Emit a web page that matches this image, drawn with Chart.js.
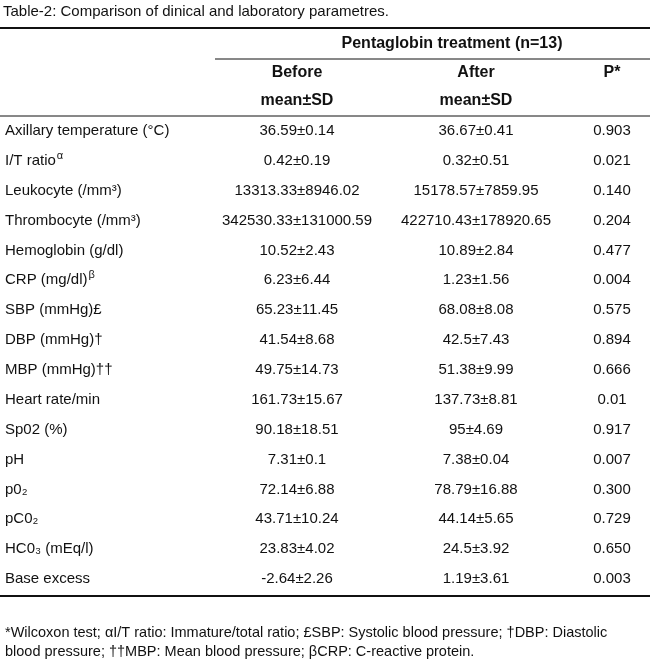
<!DOCTYPE html>
<html>
<head>
<meta charset="utf-8">
<script src="https://cdn.jsdelivr.net/npm/chart.js@4"></script>
<style>
  body { margin: 0; background: #fff; }
  canvas { display: block; }
</style>
</head>
<body>
<canvas id="tbl" width="650" height="661"></canvas>
<script>
// Table data
const rowLabels = [
    'Axillary temperature (°C)', 'I/T ratio', 'Leukocyte (/mm³)', 'Thrombocyte (/mm³)',
    'Hemoglobin (g/dl)', 'CRP (mg/dl)', 'SBP (mmHg)£', 'DBP (mmHg)†', 'MBP (mmHg)††',
    'Heart rate/min', 'Sp02 (%)', 'pH', 'p0₂', 'pC0₂', 'HC0₃ (mEq/l)', 'Base excess'
];
const labelSup = ['', 'α', '', '', '', 'β', '', '', '', '', '', '', '', '', '', ''];
const beforeVals = [
    '36.59±0.14', '0.42±0.19', '13313.33±8946.02', '342530.33±131000.59', '10.52±2.43',
    '6.23±6.44', '65.23±11.45', '41.54±8.68', '49.75±14.73', '161.73±15.67', '90.18±18.51',
    '7.31±0.1', '72.14±6.88', '43.71±10.24', '23.83±4.02', '-2.64±2.26'
];
const afterVals = [
    '36.67±0.41', '0.32±0.51', '15178.57±7859.95', '422710.43±178920.65', '10.89±2.84',
    '1.23±1.56', '68.08±8.08', '42.5±7.43', '51.38±9.99', '137.73±8.81', '95±4.69',
    '7.38±0.04', '78.79±16.88', '44.14±5.65', '24.5±3.92', '1.19±3.61'
];
const pVals = [
    '0.903', '0.021', '0.140', '0.204', '0.477', '0.004', '0.575', '0.894', '0.666',
    '0.01', '0.917', '0.007', '0.300', '0.729', '0.650', '0.003'
];
const titleText = 'Table-2: Comparison of dinical and laboratory parametres.';
const groupHeader = 'Pentaglobin treatment (n=13)';
const colHeaders = [['Before', 'mean±SD'], ['After', 'mean±SD'], ['P*', '']];
const footLines = [
    '*Wilcoxon test; αI/T ratio: Immature/total ratio; £SBP: Systolic blood pressure; †DBP: Diastolic',
    'blood pressure; ††MBP: Mean blood pressure; βCRP: C-reactive protein.'
];

const FONT = '"Liberation Sans Narrow", "Arial Narrow", sans-serif';
const COL_X = [297, 476, 612];

const tablePlugin = {
    id: 'tablePlugin',
    afterDraw(chart) {
        const ctx = chart.ctx;
        const x = chart.scales.x;
        const y = chart.scales.y;
        ctx.save();
        ctx.fillStyle = '#111';
        ctx.strokeStyle = '#111';
        ctx.textBaseline = 'middle';

        // title
        ctx.font = '15px ' + FONT;
        ctx.textAlign = 'left';
        ctx.fillText(titleText, x.getPixelForValue(3), 12);

        // rules
        const hline = (y0, x0, x1, w) => {
            ctx.lineWidth = w;
            ctx.beginPath();
            ctx.moveTo(x.getPixelForValue(x0), y0);
            ctx.lineTo(x.getPixelForValue(x1), y0);
            ctx.stroke();
        };
        hline(28, 0, 650, 2);
        hline(59, 215, 650, 1);
        hline(116, 0, 650, 1);
        hline(596, 0, 650, 2);

        // headers
        ctx.font = 'bold 16px ' + FONT;
        ctx.textAlign = 'center';
        ctx.fillText(groupHeader, x.getPixelForValue(452), 44);
        colHeaders.forEach((h, i) => {
            ctx.fillText(h[0], x.getPixelForValue(COL_X[i]), 73);
            if (h[1]) ctx.fillText(h[1], x.getPixelForValue(COL_X[i]), 101);
        });

        // rows
        rowLabels.forEach((lab, i) => {
            const py = y.getPixelForValue(i);
            ctx.font = '15px ' + FONT;
            ctx.textAlign = 'left';
            const lx = x.getPixelForValue(5);
            ctx.fillText(lab, lx, py);
            if (labelSup[i]) {
                const w = ctx.measureText(lab).width;
                ctx.font = '11px ' + FONT;
                ctx.fillText(labelSup[i], lx + w + 1, py - 5);
                ctx.font = '15px ' + FONT;
            }
            ctx.textAlign = 'center';
            ctx.fillText(beforeVals[i], x.getPixelForValue(COL_X[0]), py);
            ctx.fillText(afterVals[i], x.getPixelForValue(COL_X[1]), py);
            ctx.fillText(pVals[i], x.getPixelForValue(COL_X[2]), py);
        });

        // footnote
        ctx.font = '14.5px ' + FONT;
        ctx.textAlign = 'left';
        footLines.forEach((t, i) => ctx.fillText(t, x.getPixelForValue(5), 633 + i * 19));
        ctx.restore();
    }
};

new Chart(document.getElementById('tbl'), {
    type: 'line',
    data: { labels: rowLabels, datasets: [{ data: [], showLine: false }] },
    options: {
        responsive: false,
        animation: false,
        layout: { padding: { top: 131, bottom: 82, left: 0, right: 0 } },
        plugins: { legend: { display: false }, tooltip: { enabled: false } },
        scales: {
            x: { type: 'linear', min: 0, max: 650, display: false },
            y: { type: 'category', offset: false, display: false }
        }
    },
    plugins: [tablePlugin]
});
</script>
</body>
</html>
